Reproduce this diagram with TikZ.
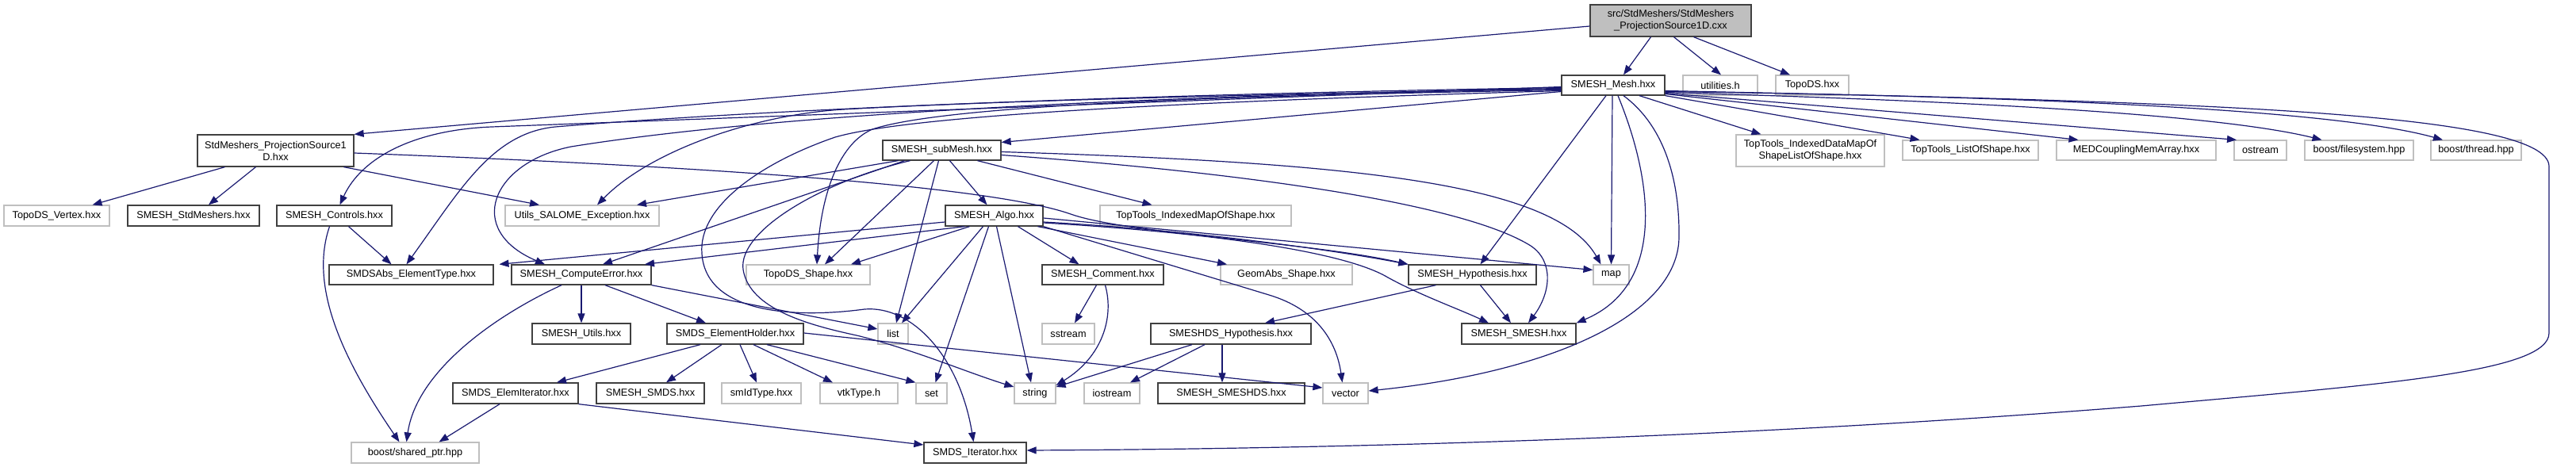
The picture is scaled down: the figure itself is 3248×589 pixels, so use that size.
\documentclass[tikz,border=0pt]{standalone}
\usepackage{fontspec}
\setmainfont{Liberation Sans}
\usetikzlibrary{arrows.meta}
\definecolor{edgeblue}{HTML}{191970}
\definecolor{gborder}{HTML}{BFBFBF}
\definecolor{bborder}{HTML}{404040}
\definecolor{rootfill}{HTML}{BFBFBF}
\begin{document}
\begin{tikzpicture}[x=1pt,y=-1pt,
  base/.style={rectangle, inner sep=0pt, align=center, font=\fontsize{12.7}{15}\selectfont, line width=1.3pt},
  hb/.style={base, draw=bborder, fill=white},
  gb/.style={base, draw=gborder, fill=white, line width=1.2pt},
  rb/.style={base, draw=bborder, fill=rootfill},
  e/.style={draw=edgeblue, line width=1.2pt, -{Triangle[length=12pt,width=9pt]}}
]
\useasboundingbox (0,0) rectangle (3248,589);
% row A
\node[rb, minimum width=203pt, minimum height=40pt] (root) at (2106.5,26) {src/StdMeshers/StdMeshers\\\_ProjectionSource1D.cxx};
% row B
\node[hb, minimum width=130pt, minimum height=25pt] (mesh) at (2034,107.5) {SMESH\_Mesh.hxx};
\node[gb, minimum width=94pt, minimum height=25pt] (util) at (2169,107.5) {utilities.h};
\node[gb, minimum width=92pt, minimum height=25pt] (topods) at (2285,107.5) {TopoDS.hxx};
% row C
\node[hb, minimum width=197pt, minimum height=40pt] (ps1dh) at (347.5,190) {StdMeshers\_ProjectionSource1\\D.hxx};
\node[hb, minimum width=149pt, minimum height=25pt] (submesh) at (1187.5,189.5) {SMESH\_subMesh.hxx};
\node[gb, minimum width=187pt, minimum height=40pt] (ttidm) at (2282.5,190) {TopTools\_IndexedDataMapOf\\ShapeListOfShape.hxx};
\node[gb, minimum width=171pt, minimum height=25pt] (ttlist) at (2484.5,189.5) {TopTools\_ListOfShape.hxx};
\node[gb, minimum width=201pt, minimum height=25pt] (med) at (2693.5,189.5) {MEDCouplingMemArray.hxx};
\node[gb, minimum width=66pt, minimum height=25pt] (ostream) at (2850,189.5) {ostream};
\node[gb, minimum width=137pt, minimum height=25pt] (bfs) at (2974.5,189.5) {boost/filesystem.hpp};
\node[gb, minimum width=114pt, minimum height=25pt] (bthr) at (3122,189.5) {boost/thread.hpp};
% row D
\node[gb, minimum width=133pt, minimum height=26pt] (vertex) at (71.5,272) {TopoDS\_Vertex.hxx};
\node[hb, minimum width=166pt, minimum height=26pt] (stdm) at (244,272) {SMESH\_StdMeshers.hxx};
\node[hb, minimum width=145pt, minimum height=26pt] (controls) at (421.5,272) {SMESH\_Controls.hxx};
\node[gb, minimum width=194pt, minimum height=26pt] (uexc) at (734,272) {Utils\_SALOME\_Exception.hxx};
\node[hb, minimum width=123pt, minimum height=26pt] (algo) at (1253.5,272) {SMESH\_Algo.hxx};
\node[gb, minimum width=241pt, minimum height=26pt] (ttimap) at (1507.5,272) {TopTools\_IndexedMapOfShape.hxx};
% row E
\node[hb, minimum width=207pt, minimum height=25pt] (smdsabs) at (518.5,346.5) {SMDSAbs\_ElementType.hxx};
\node[hb, minimum width=176pt, minimum height=25pt] (comperr) at (733,346.5) {SMESH\_ComputeError.hxx};
\node[gb, minimum width=156pt, minimum height=25pt] (toposhape) at (1019,346.5) {TopoDS\_Shape.hxx};
\node[hb, minimum width=153pt, minimum height=25pt] (comment) at (1390.5,346.5) {SMESH\_Comment.hxx};
\node[gb, minimum width=166pt, minimum height=25pt] (geomabs) at (1622,346.5) {GeomAbs\_Shape.hxx};
\node[hb, minimum width=161pt, minimum height=25pt] (hyp) at (1856.5,346.5) {SMESH\_Hypothesis.hxx};
\node[gb, minimum width=45pt, minimum height=25pt] (map) at (2031.5,346.5) {map};
% row F
\node[hb, minimum width=124pt, minimum height=26pt] (utils) at (733,421) {SMESH\_Utils.hxx};
\node[hb, minimum width=172pt, minimum height=26pt] (eholder) at (927,421) {SMDS\_ElementHolder.hxx};
\node[gb, minimum width=38pt, minimum height=26pt] (list) at (1126,421) {list};
\node[gb, minimum width=66pt, minimum height=26pt] (sstream) at (1347,421) {sstream};
\node[hb, minimum width=202pt, minimum height=26pt] (dshyp) at (1552,421) {SMESHDS\_Hypothesis.hxx};
\node[hb, minimum width=144pt, minimum height=26pt] (ssmesh) at (1915,421) {SMESH\_SMESH.hxx};
% row G
\node[hb, minimum width=158pt, minimum height=26pt] (elemit) at (650,496) {SMDS\_ElemIterator.hxx};
\node[hb, minimum width=136pt, minimum height=26pt] (ssmds) at (820,496) {SMESH\_SMDS.hxx};
\node[gb, minimum width=100pt, minimum height=26pt] (smid) at (960,496) {smIdType.hxx};
\node[gb, minimum width=98pt, minimum height=26pt] (vtk) at (1083,496) {vtkType.h};
\node[gb, minimum width=39pt, minimum height=26pt] (set) at (1174.5,496) {set};
\node[gb, minimum width=52pt, minimum height=26pt] (string) at (1305,496) {string};
\node[gb, minimum width=70pt, minimum height=26pt] (iostream) at (1402,496) {iostream};
\node[hb, minimum width=185pt, minimum height=26pt] (ssmeshds) at (1552.5,496) {SMESH\_SMESHDS.hxx};
\node[gb, minimum width=57pt, minimum height=26pt] (vector) at (1696.5,496) {vector};
% row H
\node[gb, minimum width=161pt, minimum height=26pt] (sptr) at (523.5,571) {boost/shared\_ptr.hpp};
\node[hb, minimum width=129pt, minimum height=26pt] (smdsiter) at (1229.5,571) {SMDS\_Iterator.hxx};

% ---- edges from root
\draw[e] ([yshift=-7pt]root.west) -- (ps1dh.north east);
\draw[e] ([xshift=-25pt]root.south) -- ([xshift=13pt]mesh.north);
\draw[e] ([xshift=4pt]root.south) -- ([xshift=1pt]util.north);
\draw[e] ([xshift=29pt]root.south) -- ([xshift=-28pt]topods.north);
% ---- ps1dh
\draw[e] ([xshift=-64pt]ps1dh.south) -- ([xshift=45pt]vertex.north);
\draw[e] ([xshift=-25pt]ps1dh.south) -- ([xshift=19pt]stdm.north);
\draw[e] ([xshift=86pt]ps1dh.south) -- ([xshift=-54pt]uexc.north);
\draw[e] ([yshift=-3pt]ps1dh.east) .. controls (900,210) and (1250,235) .. (1350,270) .. controls (1420,295) and (1650,305) .. (hyp.north west);
% ---- mesh, right side
\draw[e] ([xshift=33pt]mesh.south) -- ([xshift=-62pt]ttidm.north);
\draw[e] (mesh.south east) -- ([xshift=-64pt]ttlist.north);
\draw[e] ([yshift=-11pt]mesh.east) -- ([xshift=-73pt]med.north);
\draw[e] ([yshift=-10pt]mesh.east) -- ([xshift=-30pt]ostream.north);
\draw[e] ([yshift=-9pt]mesh.east) .. controls (2500,128) and (2800,145) .. ([xshift=-47pt]bfs.north);
\draw[e] ([yshift=-8pt]mesh.east) .. controls (2600,122) and (2950,140) .. ([xshift=-42pt]bthr.north);
\draw[e] ([yshift=-7pt]mesh.east) .. controls (2750,128) and (3214,140) .. (3214,210) -- (3214,420) .. controls (3214,470) and (3000,485) .. (2700,512) .. controls (2200,552) and (1700,566) .. ([yshift=3pt]smdsiter.east);
% ---- mesh, bottom
\draw[e] ([xshift=-9pt]mesh.south) -- ([xshift=10pt]hyp.north);
\draw[e] ([xshift=-1pt]mesh.south) -- (map.north);
\draw[e] ([xshift=6pt]mesh.south) .. controls (2085,230) and (2100,360) .. (ssmesh.north east);
\draw[e] ([xshift=13pt]mesh.south) .. controls (2100,160) and (2118,230) .. (2117,300) .. controls (2115,400) and (1950,470) .. ([yshift=3pt]vector.east);
% ---- mesh, left side
\draw[e] ([yshift=-8pt]mesh.west) -- ([yshift=10pt]submesh.east);
\draw[e] ([yshift=-2pt]mesh.west) -- (620,160) .. controls (520,164) and (455,200) .. ([xshift=7pt]controls.north);
\draw[e] ([yshift=-3pt]mesh.west) .. controls (1500,118) and (1000,135) .. (700,160) .. controls (620,168) and (580,240) .. ([xshift=-6pt]smdsabs.north);
\draw[e] ([yshift=-4pt]mesh.west) .. controls (1500,120) and (1000,140) .. (720,185) .. controls (620,205) and (585,290) .. ([xshift=-46pt]comperr.north);
\draw[e] ([yshift=-5pt]mesh.west) .. controls (1500,120) and (1200,130) .. (1063,138) .. controls (950,145) and (820,190) .. ([xshift=19pt]uexc.north);
\draw[e] ([yshift=-6pt]mesh.west) .. controls (1600,120) and (1200,130) .. (1100,163) .. controls (1060,180) and (1035,240) .. ([xshift=11pt]toposhape.north);
\draw[e] ([yshift=-7pt]mesh.west) .. controls (1500,128) and (1150,145) .. (1053,173) .. controls (960,205) and (880,260) .. (885,320) .. controls (890,395) and (1000,402) .. (1090,390) .. controls (1150,385) and (1210,450) .. ([xshift=-2pt]smdsiter.north);
% ---- submesh
\draw[e] ([xshift=-55pt]submesh.south) -- ([xshift=69pt]uexc.north);
\draw[e] ([xshift=-47pt]submesh.south) -- ([xshift=27pt]comperr.north);
\draw[e] ([xshift=-40pt]submesh.south) .. controls (1040,228) and (930,290) .. (937,340) .. controls (945,390) and (1020,410) .. (1080,423) .. controls (1150,440) and (1220,470) .. ([yshift=8pt]string.west);
\draw[e] ([xshift=-10pt]submesh.south) -- ([xshift=21pt]toposhape.north);
\draw[e] ([xshift=-4pt]submesh.south) -- ([xshift=4pt]list.north);
\draw[e] ([xshift=10pt]submesh.south) -- ([xshift=-9pt]algo.north);
\draw[e] ([xshift=45pt]submesh.south) -- ([xshift=-55pt]ttimap.north);
\draw[e] ([yshift=-2pt]submesh.east) .. controls (1700,205) and (1960,230) .. ([xshift=-13pt]map.north);
\draw[e] ([yshift=-6pt]submesh.east) .. controls (1600,220) and (1850,260) .. (1930,310) .. controls (1960,330) and (1955,370) .. ([xshift=12pt]ssmesh.north);
% ---- algo
\draw[e] ([yshift=-8pt]algo.west) -- ([xshift=111pt]smdsabs.north);
\draw[e] ([xshift=-37pt]algo.south) -- ([xshift=80pt]comperr.north);
\draw[e] ([xshift=-31pt]algo.south) -- ([xshift=54pt]toposhape.north);
\draw[e] ([xshift=-14pt]algo.south) -- ([xshift=11pt]list.north);
\draw[e] ([xshift=-7pt]algo.south) -- ([xshift=5pt]set.north);
\draw[e] ([xshift=3pt]algo.south) -- ([xshift=-5pt]string.north);
\draw[e] ([xshift=30pt]algo.south) -- ([xshift=-30pt]comment.north);
\draw[e] ([xshift=55pt]algo.south) -- ([xshift=-75pt]geomabs.north);
\draw[e] ([yshift=-8pt]algo.east) .. controls (1500,290) and (1680,315) .. (hyp.north west);
\draw[e] ([yshift=-9pt]algo.east) .. controls (1550,295) and (1700,320) .. (1750,350) .. controls (1790,372) and (1840,390) .. ([xshift=-38pt]ssmesh.north);
\draw[e] ([yshift=-3pt]algo.east) -- ([yshift=6pt]map.west);
\draw[e] (algo.south east) -- (1600,372) .. controls (1660,390) and (1685,430) .. ([xshift=-4pt]vector.north);
% ---- controls
\draw[e] ([xshift=18pt]controls.south) -- ([xshift=-25pt]smdsabs.north);
\draw[e] ([xshift=-6pt]controls.south) .. controls (390,360) and (430,450) .. ([xshift=-20pt]sptr.north);
% ---- compute error
\draw[e] (comperr.south) -- (utils.north);
\draw[e] ([xshift=30pt]comperr.south) -- ([xshift=-37pt]eholder.north);
\draw[e] ([xshift=-25pt]comperr.south) .. controls (620,400) and (525,470) .. ([xshift=-11pt]sptr.north);
\draw[e] (comperr.south east) -- ([yshift=6pt]list.west);
% ---- element holder
\draw[e] ([xshift=-44pt]eholder.south) -- ([xshift=52pt]elemit.north);
\draw[e] ([xshift=-17pt]eholder.south) -- ([xshift=20pt]ssmds.north);
\draw[e] ([xshift=6pt]eholder.south) -- ([xshift=-6pt]smid.north);
\draw[e] ([xshift=23pt]eholder.south) -- ([xshift=-33pt]vtk.north);
\draw[e] ([xshift=40pt]eholder.south) -- (set.north west);
\draw[e] ([yshift=1pt]eholder.east) -- ([yshift=7pt]vector.west);
% ---- elem iterator
\draw[e] ([xshift=-20pt]elemit.south) -- ([xshift=30pt]sptr.north);
\draw[e] (elemit.south east) -- ([yshift=10pt]smdsiter.west);
% ---- comment
\draw[e] ([xshift=-8pt]comment.south) -- ([xshift=8pt]sstream.north);
\draw[e] ([xshift=3pt]comment.south) .. controls (1405,400) and (1390,450) .. ([yshift=10pt]string.east);
% ---- SMESHDS hypothesis
\draw[e] ([xshift=-49pt]dshyp.south) -- ([yshift=8pt]string.east);
\draw[e] ([xshift=-33pt]dshyp.south) -- ([xshift=23pt]iostream.north);
\draw[e] ([xshift=-11pt]dshyp.south) -- ([xshift=-11.5pt]ssmeshds.north);
% ---- hypothesis
\draw[e] ([xshift=-46pt]hyp.south) -- ([xshift=43pt]dshyp.north);
\draw[e] ([xshift=10pt]hyp.south) -- ([xshift=-10pt]ssmesh.north);
\end{tikzpicture}
\end{document}
